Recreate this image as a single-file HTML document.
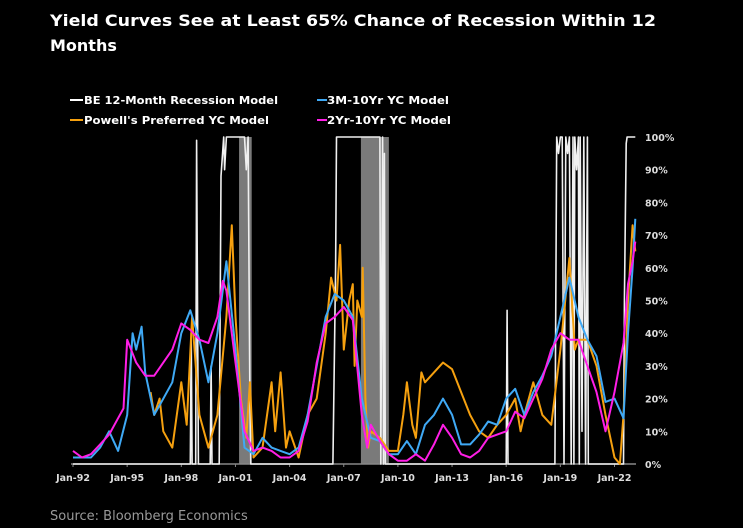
<!DOCTYPE html>
<html><head><meta charset="utf-8"><style>
html,body{margin:0;padding:0;background:#000;}
svg{display:block;font-family:"DejaVu Sans","Liberation Sans",sans-serif;}
</style></head><body>
<svg id="chart" width="743" height="528" viewBox="0 0 743 528">
<rect width="743" height="528" fill="#000"/>
<text x="50" y="26" fill="#fff" font-size="16" font-weight="bold" textLength="606" lengthAdjust="spacingAndGlyphs">Yield Curves See at Least 65% Chance of Recession Within 12</text>
<text x="50" y="51" fill="#fff" font-size="16" font-weight="bold">Months</text>
<g>
<line x1="70" y1="100" x2="83" y2="100" stroke="#fff" stroke-width="2"/>
<text x="84" y="104" fill="#fff" font-size="11" font-weight="bold" textLength="194" lengthAdjust="spacingAndGlyphs">BE 12-Month Recession Model</text>
<line x1="317" y1="100" x2="327" y2="100" stroke="#3fa9f5" stroke-width="2"/>
<text x="327" y="104" fill="#fff" font-size="11" font-weight="bold" textLength="122" lengthAdjust="spacingAndGlyphs">3M-10Yr YC Model</text>
<line x1="70" y1="120" x2="83" y2="120" stroke="#f5a00f" stroke-width="2"/>
<text x="84" y="124" fill="#fff" font-size="11" font-weight="bold" textLength="185" lengthAdjust="spacingAndGlyphs">Powell's Preferred YC Model</text>
<line x1="317" y1="120" x2="327" y2="120" stroke="#ff1ee6" stroke-width="2"/>
<text x="327" y="124" fill="#fff" font-size="11" font-weight="bold" textLength="124" lengthAdjust="spacingAndGlyphs">2Yr-10Yr YC Model</text>
</g>
<g id="plot"></g>
<text x="50" y="520" fill="#9a9a9a" font-size="13">Source: Bloomberg Economics</text>
</svg>
<script>
const recStart=[2001.2,2007.95];
const recEnd=[2001.9,2009.5];
const xTickYears=[1992,1995,1998,2001,2004,2007,2010,2013,2016,2019,2022];
const xTickLabels=["Jan-92","Jan-95","Jan-98","Jan-01","Jan-04","Jan-07","Jan-10","Jan-13","Jan-16","Jan-19","Jan-22"];
const yTicks=[0,10,20,30,40,50,60,70,80,90,100];

const magT=[1992,1992.5,1993,1993.5,1994,1994.5,1994.8,1995,1995.5,1996,1996.5,1997,1997.5,1998,1998.5,1999,1999.5,2000,2000.3,2000.5,2001,2001.5,2002,2002.5,2003,2003.5,2004,2004.5,2005,2005.5,2006,2006.5,2007,2007.5,2008,2008.3,2008.5,2009,2009.5,2010,2010.5,2011,2011.5,2012,2012.5,2013,2013.5,2014,2014.5,2015,2015.5,2016,2016.5,2017,2017.5,2018,2018.5,2019,2019.5,2020,2020.5,2021,2021.5,2022,2022.5,2022.75,2023,2023.15];
const magV=[4,2,3,6,9,14,17,38,31,27,27,31,35,43,41,38,37,45,56,53,31,10,4,5,4,2,2,4,13,31,43,45,48,44,15,5,12,7,3,1,1,3,1,6,12,8,3,2,4,8,9,10,16,14,20,26,35,40,38,38,30,22,10,22,37,55,62,68];

const bluT=[1992,1992.5,1993,1993.5,1994,1994.5,1995,1995.3,1995.5,1995.8,1996,1996.5,1997,1997.5,1998,1998.5,1999,1999.5,2000,2000.5,2001,2001.5,2002,2002.5,2003,2003.5,2004,2004.5,2005,2005.5,2006,2006.5,2007,2007.5,2008,2008.5,2009,2009.5,2010,2010.5,2011,2011.5,2012,2012.5,2013,2013.5,2014,2014.5,2015,2015.5,2016,2016.5,2017,2017.5,2018,2018.5,2019,2019.5,2020,2020.5,2021,2021.5,2022,2022.5,2022.75,2023,2023.15];
const bluV=[2,2,2,5,10,4,15,40,35,42,28,15,20,25,40,47,38,25,40,62,35,5,3,8,5,4,3,5,15,30,45,52,50,45,20,8,7,3,3,7,3,12,15,20,15,6,6,9,13,12,20,23,15,22,27,33,45,57,45,38,33,19,20,14,40,60,75];

const orT=[1996.3,1996.5,1996.8,1997,1997.5,1998,1998.3,1998.6,1999,1999.5,2000,2000.5,2000.8,2001,2001.3,2001.6,2001.8,2002,2002.5,2003,2003.2,2003.5,2003.8,2004,2004.5,2005,2005.5,2006,2006.3,2006.6,2006.8,2007,2007.3,2007.5,2007.6,2007.75,2008,2008.05,2008.2,2008.35,2008.5,2009,2009.5,2010,2010.3,2010.5,2010.8,2011,2011.3,2011.5,2012,2012.5,2013,2013.5,2014,2014.5,2015,2015.5,2016,2016.5,2016.8,2017,2017.5,2018,2018.5,2019,2019.5,2019.8,2020,2020.5,2021,2021.5,2022,2022.3,2022.5,2022.75,2023,2023.15];
const orV=[22,15,20,10,5,25,12,45,15,5,15,45,73,45,20,8,25,2,5,25,10,28,5,10,2,15,20,40,57,50,67,35,50,55,30,50,45,60,20,5,10,8,4,4,15,25,12,8,28,25,28,31,29,22,15,10,8,12,15,20,10,15,25,15,12,35,63,35,38,38,30,15,2,0,15,50,73,65];

const whT=[1992,1998.5,1998.55,1998.6,1998.65,1998.8,1998.85,1998.95,1999,1999.6,1999.65,1999.7,1999.75,2000.1,2000.2,2000.35,2000.4,2000.5,2000.6,2001.5,2001.6,2001.7,2001.8,2001.85,2006.4,2006.55,2006.6,2006.7,2009.0,2009.05,2009.15,2009.2,2009.25,2009.3,2016.0,2016.05,2016.1,2016.15,2018.7,2018.8,2018.9,2019.0,2019.1,2019.2,2019.3,2019.4,2019.5,2019.6,2019.7,2019.75,2019.8,2019.9,2020.0,2020.05,2020.1,2020.2,2020.3,2020.4,2020.5,2020.55,2022.5,2022.55,2022.65,2022.7,2023.15];
const whV=[0,0,40,0,0,0,99,0,0,0,30,0,0,0,88,100,90,100,100,100,90,100,20,0,0,60,100,100,100,0,100,0,95,0,0,47,0,0,0,100,95,100,100,0,100,95,100,0,100,0,100,90,100,0,100,10,100,0,100,0,0,50,98,100,100];

const NS='http://www.w3.org/2000/svg';
const plot=document.getElementById('plot');
const X0=73, PXY=18.05, YB=464, PXV=3.27, XR=636;
function xs(t){return X0+(t-1992)*PXY;}
function ys(v){return YB-v*PXV;}
function mk(tag,attrs){const e=document.createElementNS(NS,tag);for(const k in attrs)e.setAttribute(k,attrs[k]);plot.appendChild(e);return e;}

for(let i=0;i<recStart.length;i++){
  const r=mk('rect',{x:xs(recStart[i]),y:ys(100),width:xs(recEnd[i])-xs(recStart[i]),height:ys(0)-ys(100),fill:'#7a7a7a'});
  
  
}
const ax=mk('line',{x1:X0-2,y1:YB,x2:XR,y2:YB,stroke:'#888','stroke-width':1.5});


for(let i=0;i<xTickYears.length;i++){
  const tx=xs(xTickYears[i]);
  const tk=mk('line',{x1:tx,y1:YB,x2:tx,y2:YB+3,stroke:'#888'});
  
  
  const lb=mk('text',{x:tx,y:YB+17,fill:'#ddd','font-size':9.5,'font-weight':'bold','text-anchor':'middle'});
  lb.textContent=xTickLabels[i];
  
  
}
for(let i=0;i<yTicks.length;i++){
  const lb=mk('text',{x:645,y:ys(yTicks[i])+4,fill:'#ddd','font-size':9.5,'font-weight':'bold'});
  lb.textContent=yTicks[i]+'%';
  
  
}
function series(T,V,color,w,name){
  let d='';
  for(let i=0;i<T.length;i++){d+=(i?'L':'M')+xs(T[i]).toFixed(1)+','+ys(V[i]).toFixed(1);}
  const p=mk('path',{d:d,fill:'none',stroke:color,'stroke-width':w,'stroke-linejoin':'round'});
  
  
}
series(whT,whV,'#f0f0f0',1.6,'series-be-model');
series(orT,orV,'#f5a00f',2,'series-powell');
series(bluT,bluV,'#3fa9f5',2,'series-3m10y');
series(magT,magV,'#ff1ee6',2,'series-2y10y');
</script>
</body></html>
